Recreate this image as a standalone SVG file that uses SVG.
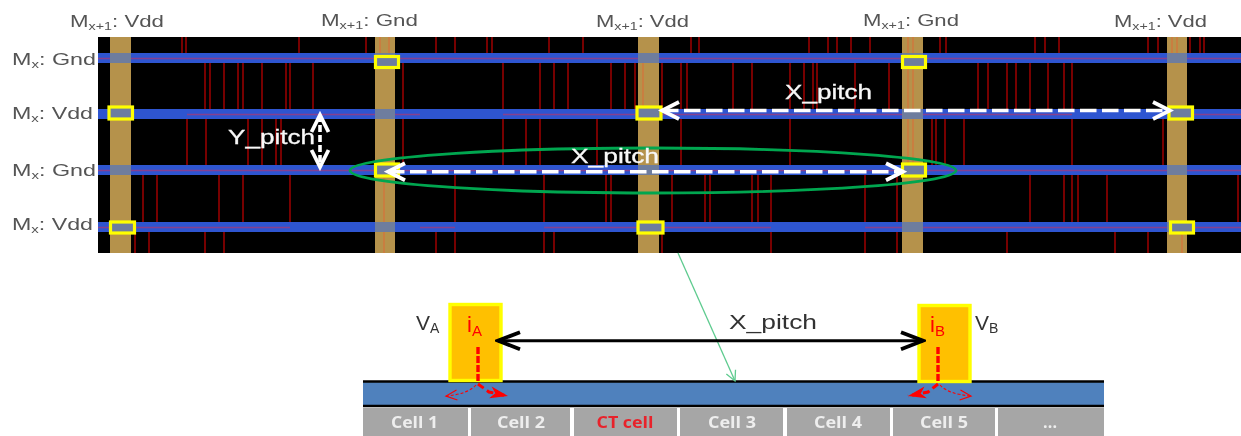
<svg xmlns="http://www.w3.org/2000/svg" width="1241" height="436" viewBox="0 0 1241 436">
<style>
text{font-family:"Liberation Sans",Arial,sans-serif}
.lb{font-size:17px;fill:#555}
.lb .s{font-size:11px}
.g{fill:#b5924c}
.b{fill:#2f55d0}
.o{fill:#6e7d9e}
.r{stroke:#8c0808;stroke-width:1.7;fill:none}
.or{stroke:#d0783e;stroke-width:1.5;fill:none}
.h{stroke:#86408f;stroke-width:1.4;fill:none}
.y{fill:#6e7d9e;stroke:#ffff00;stroke-width:3.200}
.w{font-size:20px;fill:#f8f8f8;stroke:#f8f8f8;stroke-width:.3}
.wa{stroke:#fff;stroke-width:3.600;stroke-dasharray:16.5 5.500;fill:none}
.c{fill:#a6a6a6}
.ct{font-family:"Open Sans","Liberation Sans",sans-serif;font-size:16px;font-weight:700;fill:#eee;text-anchor:middle}
.pin{fill:#ffc000;stroke:#ffff00;stroke-width:3.400}
.bt{font-size:21px;fill:#333}
.rt{font-size:22px;fill:#f00}
.sub{font-size:15px}
.sb{font-size:14px}
</style>
<defs>
<marker id="mw" markerUnits="userSpaceOnUse" markerWidth="24" markerHeight="24" refX="20" refY="12" orient="auto-start-reverse"><path d="M3 3.500L20 12L3 20.500" fill="none" stroke="#fff" stroke-width="3.800"/></marker>
<marker id="mk" markerUnits="userSpaceOnUse" markerWidth="28" markerHeight="24" refX="25" refY="12" orient="auto-start-reverse"><path d="M3 3.500L25 12L3 20.500" fill="none" stroke="#000" stroke-width="3.800"/></marker>
<marker id="mr" markerUnits="userSpaceOnUse" markerWidth="22" markerHeight="16" refX="20" refY="8" orient="auto"><path d="M2 2L20 8L2 14L7 8Z" fill="#f00"/></marker>
<marker id="mt" markerUnits="userSpaceOnUse" markerWidth="16" markerHeight="14" refX="14" refY="7" orient="auto"><path d="M3 2L14 7L3 12" fill="none" stroke="#f00" stroke-width="1.200"/></marker>
<marker id="mg" markerUnits="userSpaceOnUse" markerWidth="14" markerHeight="14" refX="12" refY="7" orient="auto"><path d="M2 2L12 7L2 12" fill="none" stroke="#5ecb8f" stroke-width="1.300"/></marker>
<filter id="soft" x="-2%" y="-2%" width="104%" height="104%"><feGaussianBlur stdDeviation="0.4"/></filter>
</defs>
<g filter="url(#soft)">
<rect x="0" y="0" width="1241" height="436" fill="#fff"/>
<g id="grid">
<rect x="98" y="37" width="1143" height="216" fill="#000"/>
<path class="r" d="M182 37V58M186 37V58M299 37V58M366 37V58M436 37V58M455 37V58M487 37V58M492 37V58M549 37V58M583 37V58M691 37V58M699 37V58M809 37V58M828 37V58M837 37V58M851 37V58M870 37V58M940 37V58M946 37V58M1035 37V58M1045 37V58M1059 37V58M1148 37V58M1158 37V58M1190 37V58M1200 37V58M1204 37V58"/>
<path class="r" d="M205 58V114M210 58V114M224 58V114M238 58V114M243 58V114M262 58V114M286 58V114M290 58V114M313 58V114M403 58V114M503 58V114M540 58V114M554 58V114M568 58V114M611 58V114M625 58V114M635 58V114M662 58V114M681 58V114M687 58V114M733 58V114M752 58V114M790 58V114M804 58V114M813 58V114M817 58V114M855 58V114M889 58V114M978 58V114M988 58V114M1007 58V114M1016 58V114M1030 58V114M1048 58V114M1064 58V114M1072 58V114"/>
<path class="r" d="M187 114V170M206 114V170M248 114V170M262 114V170M276 114V170M281 114V170M403 114V170M503 114V170M526 114V170M540 114V170M597 114V170M681 114V170M790 114V170M932 114V170M936 114V170M945 114V170M964 114V170M1072 114V170M1163 114V170"/>
<path class="r" d="M143 170V227M157 170V227M219 170V227M243 170V227M290 170V227M455 170V227M544 170V227M606 170V227M611 170V227M672 170V227M705 170V227M710 170V227M752 170V227M758 170V227M771 170V227M865 170V227M897 170V227M1030 170V227M1064 170V227M1072 170V227M1078 170V227M1107 170V227M1238 170V227"/>
<path class="r" d="M135 227V253M149 227V253M205 227V253M224 227V253M436 227V253M455 227V253M544 227V253M554 227V253M662 227V253M771 227V253M865 227V253M897 227V253M1007 227V253M1115 227V253M1148 227V253"/>
<rect class="g" x="110" y="37" width="21" height="216"/>
<rect class="g" x="375" y="37" width="20" height="216"/>
<rect class="g" x="638" y="37" width="21" height="216"/>
<rect class="g" x="902" y="37" width="21" height="216"/>
<rect class="g" x="1167" y="37" width="20" height="216"/>
<path class="or" d="M380 37V58M389 37V58M643 58V114M908 37V114M913 37V114M908 114V170M913 114V170M1172 37V58M1177 37V58M384 170V253M1182 227V253"/>
<rect class="b" x="98" y="53" width="1143" height="10"/>
<rect class="b" x="98" y="109" width="1143" height="10"/>
<rect class="b" x="98" y="165" width="1143" height="10"/>
<rect class="b" x="98" y="222" width="1143" height="10"/>
<path class="h" d="M98 58.500H1241M187 114.500H375M395 114.500H420M503 114.500H1072M1187 114.500H1241M98 170.500H1241M98 227.500H290M420 227.500H455M544 227.500H771M865 227.500H1241"/>
<path class="o" d="M110 53h21v10h-21zM375 53h20v10h-20zM638 53h21v10h-21zM902 53h21v10h-21zM1167 53h20v10h-20zM110 109h21v10h-21zM375 109h20v10h-20zM638 109h21v10h-21zM902 109h21v10h-21zM1167 109h20v10h-20zM110 165h21v10h-21zM375 165h20v10h-20zM638 165h21v10h-21zM902 165h21v10h-21zM1167 165h20v10h-20zM110 222h21v10h-21zM375 222h20v10h-20zM638 222h21v10h-21zM902 222h21v10h-21zM1167 222h20v10h-20z"/>
</g>
<g id="via-row-1"><rect class="y" x="375.500" y="56.500" width="23" height="11"/><rect class="y" x="902.500" y="56.500" width="23" height="11"/></g>
<g id="via-row-2"><rect class="y" x="109" y="107" width="23.500" height="12"/><rect class="y" x="637" y="107" width="24" height="12"/><rect class="y" x="1169" y="107" width="23.500" height="12"/></g>
<g id="via-row-3"><rect class="y" x="375.500" y="164" width="23" height="12"/><rect class="y" x="902.500" y="164" width="23" height="12"/></g>
<g id="via-row-4"><rect class="y" x="110.500" y="222" width="24" height="11"/><rect class="y" x="638" y="222" width="25" height="11"/><rect class="y" x="1170.500" y="222" width="23" height="11"/></g>
<g id="labels-top">
<text class="lb" x="70" y="27" textLength="94" lengthAdjust="spacingAndGlyphs">M<tspan class="s" dy="3">x+1</tspan><tspan dy="-3">: Vdd</tspan></text>
<text class="lb" x="321" y="26" textLength="97" lengthAdjust="spacingAndGlyphs">M<tspan class="s" dy="3">x+1</tspan><tspan dy="-3">: Gnd</tspan></text>
<text class="lb" x="596" y="27" textLength="93" lengthAdjust="spacingAndGlyphs">M<tspan class="s" dy="3">x+1</tspan><tspan dy="-3">: Vdd</tspan></text>
<text class="lb" x="863" y="26" textLength="96" lengthAdjust="spacingAndGlyphs">M<tspan class="s" dy="3">x+1</tspan><tspan dy="-3">: Gnd</tspan></text>
<text class="lb" x="1114" y="27" textLength="93" lengthAdjust="spacingAndGlyphs">M<tspan class="s" dy="3">x+1</tspan><tspan dy="-3">: Vdd</tspan></text>
</g>
<g id="labels-left">
<text class="lb" x="12" y="65" textLength="84" lengthAdjust="spacingAndGlyphs">M<tspan class="s" dy="3">x</tspan><tspan dy="-3">: Gnd</tspan></text>
<text class="lb" x="12" y="119" textLength="81" lengthAdjust="spacingAndGlyphs">M<tspan class="s" dy="3">x</tspan><tspan dy="-3">: Vdd</tspan></text>
<text class="lb" x="12" y="176" textLength="84" lengthAdjust="spacingAndGlyphs">M<tspan class="s" dy="3">x</tspan><tspan dy="-3">: Gnd</tspan></text>
<text class="lb" x="12" y="230" textLength="81" lengthAdjust="spacingAndGlyphs">M<tspan class="s" dy="3">x</tspan><tspan dy="-3">: Vdd</tspan></text>
</g>
<g id="strip">
<rect x="363" y="381" width="741" height="24" fill="#4f81bd"/>
<path d="M363 381.500H1104M363 406H1104" stroke="#000" stroke-width="2.500" fill="none"/>
</g>
<g id="cell-1"><rect class="c" x="363" y="408" width="105" height="28"/><text class="ct" x="414.500" y="428" textLength="47" lengthAdjust="spacingAndGlyphs">Cell 1</text></g>
<g id="cell-2"><rect class="c" x="471" y="408" width="99" height="28"/><text class="ct" x="521" y="428" textLength="48" lengthAdjust="spacingAndGlyphs">Cell 2</text></g>
<g id="cell-ct"><rect class="c" x="574" y="408" width="103" height="28"/><text class="ct" x="625" y="428" textLength="57" lengthAdjust="spacingAndGlyphs" style="fill:#e8222c">CT cell</text></g>
<g id="cell-3"><rect class="c" x="680" y="408" width="103" height="28"/><text class="ct" x="732" y="428" textLength="48" lengthAdjust="spacingAndGlyphs">Cell 3</text></g>
<g id="cell-4"><rect class="c" x="787" y="408" width="103" height="28"/><text class="ct" x="838" y="428" textLength="48" lengthAdjust="spacingAndGlyphs">Cell 4</text></g>
<g id="cell-5"><rect class="c" x="893" y="408" width="102" height="28"/><text class="ct" x="944" y="428" textLength="48" lengthAdjust="spacingAndGlyphs">Cell 5</text></g>
<g id="cell-more"><rect class="c" x="998" y="408" width="106" height="28"/><text class="ct" x="1050" y="428" textLength="14" lengthAdjust="spacing">...</text></g>
<g id="pin-a"><rect class="pin" x="450" y="304.500" width="51" height="76"/><text class="rt" x="467" y="332">i<tspan class="sub" dy="4">A</tspan></text></g>
<g id="pin-b"><rect class="pin" x="919" y="305.500" width="51" height="76"/><text class="rt" x="930" y="332">i<tspan class="sub" dy="4">B</tspan></text></g>
<text class="bt" id="v-a" x="416" y="330">V<tspan class="sb" dy="3">A</tspan></text>
<text class="bt" id="v-b" x="975" y="330">V<tspan class="sb" dy="3">B</tspan></text>
<g id="connectors">
<ellipse cx="653" cy="170.500" rx="303" ry="22.500" fill="none" stroke="#00a650" stroke-width="2.800"/>
<path class="wa" d="M662 110.500H1170" marker-start="url(#mw)" marker-end="url(#mw)"/>
<path class="wa" d="M388 171.700H903" marker-start="url(#mw)" marker-end="url(#mw)"/>
<path class="wa" style="stroke-dasharray:7 3" d="M320 115V167" marker-start="url(#mw)" marker-end="url(#mw)"/>
<path d="M678 253L735 381" stroke="#5ecb8f" stroke-width="1.300" fill="none" marker-end="url(#mg)"/>
<path d="M498 340.700H923" stroke="#000" stroke-width="3" fill="none" marker-start="url(#mk)" marker-end="url(#mk)"/>
<path d="M478 347V383M938 347V383" stroke="#f00" stroke-width="3.400" stroke-dasharray="7 2" fill="none"/>
<path d="M478 384L489 392L508 396" stroke="#f00" stroke-width="3" stroke-dasharray="7 4" fill="none" marker-end="url(#mr)"/>
<path d="M938 384L928 392L908 396" stroke="#f00" stroke-width="3" stroke-dasharray="7 4" fill="none" marker-end="url(#mr)"/>
<path d="M476 385Q468 394 446 396" stroke="#f00" stroke-width="1.100" stroke-dasharray="3 2" fill="none" marker-end="url(#mt)"/>
<path d="M940 385Q948 394 971 396" stroke="#f00" stroke-width="1.100" stroke-dasharray="3 2" fill="none" marker-end="url(#mt)"/>
</g>
<text class="w" x="785" y="99" textLength="87" lengthAdjust="spacingAndGlyphs">X_pitch</text>
<text class="w" x="571" y="163" textLength="88" lengthAdjust="spacingAndGlyphs">X_pitch</text>
<text class="w" x="228" y="144" textLength="87" lengthAdjust="spacingAndGlyphs">Y_pitch</text>
<text class="bt" x="729" y="329" textLength="88" lengthAdjust="spacingAndGlyphs">X_pitch</text>
</g>
</svg>
